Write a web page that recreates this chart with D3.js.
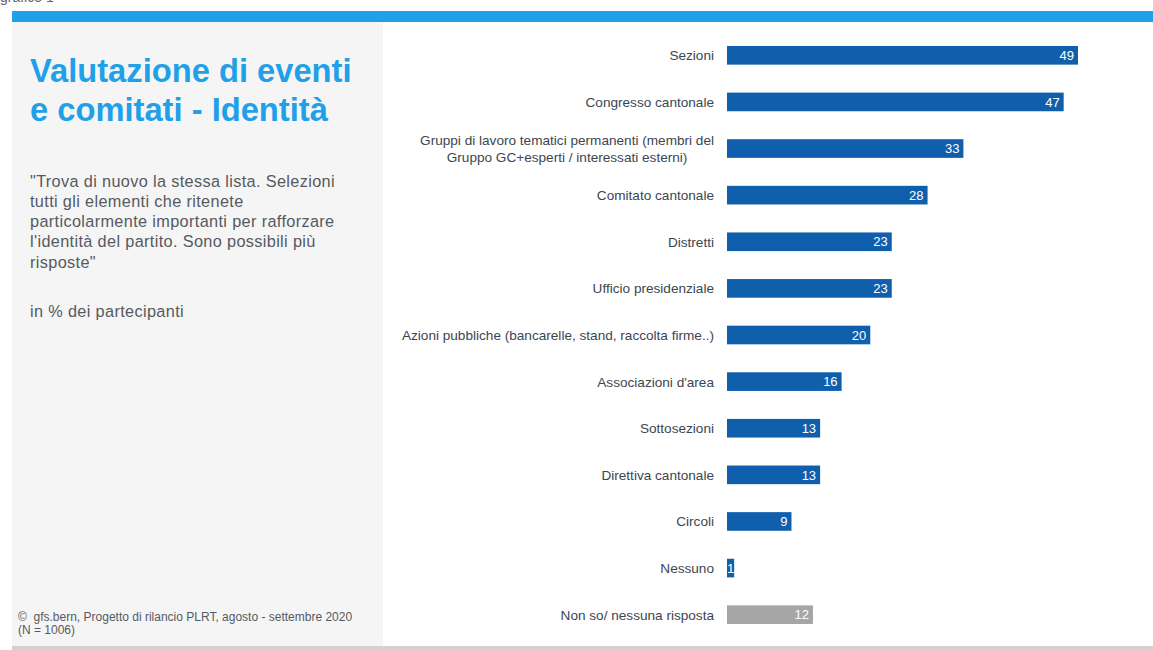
<!DOCTYPE html>
<html>
<head>
<meta charset="utf-8">
<script src="https://cdn.jsdelivr.net/npm/d3@7"></script>
<style>
  html, body { margin: 0; padding: 0; background: #ffffff; }
  svg { display: block; font-family: "Liberation Sans", Arial, sans-serif; }
</style>
</head>
<body>
<svg id="chart" width="1153" height="650"></svg>
<script>
const categories = [
  ["Sezioni"],
  ["Congresso cantonale"],
  ["Gruppi di lavoro tematici permanenti (membri del", "Gruppo GC+esperti / interessati esterni)"],
  ["Comitato cantonale"],
  ["Distretti"],
  ["Ufficio presidenziale"],
  ["Azioni pubbliche (bancarelle, stand, raccolta firme..)"],
  ["Associazioni d'area"],
  ["Sottosezioni"],
  ["Direttiva cantonale"],
  ["Circoli"],
  ["Nessuno"],
  ["Non so/ nessuna risposta"]
];
const values = [49, 47, 33, 28, 23, 23, 20, 16, 13, 13, 9, 1, 12];
const isNoAnswer = [false, false, false, false, false, false, false, false, false, false, false, false, true];

const titleLines = ["Valutazione di eventi", "e comitati - Identità"];
const questionLines = [
  "\"Trova di nuovo la stessa lista. Selezioni",
  "tutti gli elementi che ritenete",
  "particolarmente importanti per rafforzare",
  "l'identità del partito. Sono possibili più",
  "risposte\""
];
const unitText = "in % dei partecipanti";
const sourceLines = ["©\u00a0 gfs.bern, Progetto di rilancio PLRT, agosto - settembre 2020", "(N = 1006)"];

const svg = d3.select("#chart");

// page decorations
svg.append("text").attr("x", 0).attr("y", 2).attr("font-size", 14).attr("fill", "#666").text("grafico 1");
svg.append("rect").attr("x", 12).attr("y", 11).attr("width", 1141).attr("height", 11).attr("fill", "#1fa0e8");
svg.append("rect").attr("x", 12).attr("y", 22).attr("width", 371).attr("height", 624).attr("fill", "#f5f5f5");
svg.append("rect").attr("x", 12).attr("y", 646).attr("width", 1141).attr("height", 4).attr("fill", "#d2d2d2");

// left panel text
svg.append("g").selectAll("text").data(titleLines).join("text")
  .attr("x", 30).attr("y", (d, i) => 82 + i * 39)
  .attr("font-size", 32.7).attr("font-weight", "bold").attr("fill", "#1fa0e8")
  .text(d => d);

svg.append("g").selectAll("text").data(questionLines).join("text")
  .attr("x", 30).attr("y", (d, i) => 186.5 + i * 20.3)
  .attr("font-size", 16.3).attr("letter-spacing", 0.35).attr("fill", "#555a60")
  .text(d => d);

svg.append("text").attr("x", 30).attr("y", 317)
  .attr("font-size", 16.3).attr("letter-spacing", 0.35).attr("fill", "#555a60").text(unitText);

svg.append("g").selectAll("text").data(sourceLines).join("text")
  .attr("x", 18).attr("y", (d, i) => 621 + i * 13)
  .attr("font-size", 12).attr("fill", "#555a60")
  .text(d => d);

// bars
const idx = d3.range(values.length);
const x = d3.scaleLinear().domain([0, 49]).range([727, 1078]);
const y = d3.scaleBand().domain(idx).range([32, 638]).paddingInner(0.6).paddingOuter(0.3);

const g = svg.append("g");
g.selectAll("rect.bar").data(idx).join("rect")
  .attr("class", "bar")
  .attr("x", x(0))
  .attr("y", i => y(i))
  .attr("width", i => x(values[i]) - x(0))
  .attr("height", y.bandwidth())
  .attr("fill", i => isNoAnswer[i] ? "#a6a6a6" : "#0f5fad");

g.selectAll("text.val").data(idx).join("text")
  .attr("class", "val")
  .attr("x", i => x(values[i]) - (values[i] < 3 ? 0 : 4))
  .attr("y", i => y(i) + y.bandwidth() / 2)
  .attr("dy", "0.36em")
  .attr("text-anchor", "end")
  .attr("font-size", 13)
  .attr("fill", "#ffffff")
  .text(i => values[i]);

// category labels (multi-line labels centred on their widest line)
const labelRight = 714;
idx.forEach(i => {
  const lines = categories[i];
  const cy = y(i) + y.bandwidth() / 2;
  const lh = 17;
  const grp = g.append("g");
  const texts = grp.selectAll("text").data(lines).join("text")
    .attr("font-size", 13.6).attr("fill", "#3c4650")
    .attr("y", (d, j) => cy + (j - (lines.length - 1) / 2) * lh)
    .attr("dy", "0.36em")
    .text(d => d);
  if (lines.length === 1) {
    texts.attr("x", labelRight).attr("text-anchor", "end");
  } else {
    let maxW = 0;
    texts.each(function() { maxW = Math.max(maxW, this.getComputedTextLength()); });
    texts.attr("x", labelRight - maxW / 2).attr("text-anchor", "middle");
  }
});
</script>
</body>
</html>
